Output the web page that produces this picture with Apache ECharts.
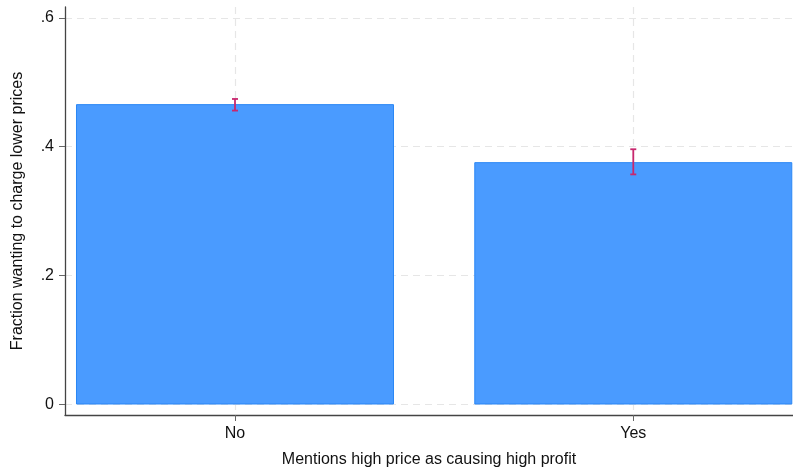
<!DOCTYPE html>
<html>
<head>
<meta charset="utf-8">
<script src="https://cdn.jsdelivr.net/npm/echarts@6/dist/echarts.min.js"></script>
<style>
  html, body { margin: 0; padding: 0; background: #fff; }
  #chart { width: 793px; height: 470px; }
</style>
</head>
<body>
<div id="chart"></div>
<script>
// Share of respondents wanting to charge lower prices, by whether they
// mention high price as causing high profit (mean with 95% CI).
const categories = ['No', 'Yes'];
const means = [0.466, 0.376];
const ciLow = [0.456, 0.357];
const ciHigh = [0.474, 0.396];
const yTicks = [0, 0.2, 0.4, 0.6];
const yTickLabels = ['0', '.2', '.4', '.6'];

const xPos = categories.map((c, i) => i + 1);
const barData = means.map((v, i) => [xPos[i], v]);
const ciData = ciLow.map((lo, i) => [xPos[i], lo, ciHigh[i]]);

const FONT = 'Liberation Sans, Arial, Helvetica, sans-serif';
const gridLine = { show: true, lineStyle: { color: '#e6e6e6', type: [7, 5], width: 1.2 } };

const chart = echarts.init(document.getElementById('chart'), null, { renderer: 'canvas' });
chart.setOption({
  animation: false,
  backgroundColor: '#ffffff',
  grid: { left: 65, right: 0, top: 7, bottom: 55, containLabel: false, outerBoundsMode: 'none' },
  xAxis: {
    type: 'value',
    min: 0.5732,
    max: 2.401,
    name: 'Mentions high price as causing high profit',
    nameLocation: 'middle',
    nameGap: 37,
    nameTextStyle: { fontFamily: FONT, fontSize: 16, color: '#111' },
    axisLine: { show: true, onZero: false, lineStyle: { color: '#444', width: 1.3 } },
    axisTick: { show: true, length: 6, customValues: xPos, lineStyle: { color: '#666' } },
    axisLabel: {
      customValues: xPos,
      margin: 11,
      fontFamily: FONT, fontSize: 16, color: '#111',
      formatter: v => categories[Math.round(v) - 1] || ''
    },
    splitLine: gridLine
  },
  yAxis: {
    type: 'value',
    min: -0.0163,
    max: 0.6167,
    name: 'Fraction wanting to charge lower prices',
    nameLocation: 'middle',
    nameGap: 39,
    nameTextStyle: { fontFamily: FONT, fontSize: 16, color: '#111' },
    axisLine: { show: true, onZero: false, lineStyle: { color: '#444', width: 1.3 } },
    axisTick: { show: true, length: 6, customValues: yTicks, lineStyle: { color: '#666' } },
    axisLabel: {
      customValues: yTicks,
      margin: 11,
      fontFamily: FONT, fontSize: 16, color: '#111',
      formatter: v => {
        const k = yTicks.findIndex(t => Math.abs(t - v) < 1e-9);
        return k >= 0 ? yTickLabels[k] : '';
      }
    },
    splitLine: gridLine
  },
  series: [
    {
      type: 'bar',
      data: barData,
      barWidth: 318,
      itemStyle: { color: '#4a9bff', borderColor: '#2a86f5', borderWidth: 1 },
      z: 2
    },
    {
      type: 'custom',
      data: ciData,
      z: 3,
      renderItem: (params, api) => {
        const x = api.value(0);
        const lo = api.coord([x, api.value(1)]);
        const hi = api.coord([x, api.value(2)]);
        const half = 3;
        const style = { stroke: '#c8286e', lineWidth: 1.8 };
        return {
          type: 'group',
          children: [
            { type: 'line', shape: { x1: lo[0], y1: lo[1], x2: hi[0], y2: hi[1] }, style },
            { type: 'line', shape: { x1: lo[0] - half, y1: lo[1], x2: lo[0] + half, y2: lo[1] }, style },
            { type: 'line', shape: { x1: hi[0] - half, y1: hi[1], x2: hi[0] + half, y2: hi[1] }, style }
          ]
        };
      }
    }
  ]
});
</script>
</body>
</html>
